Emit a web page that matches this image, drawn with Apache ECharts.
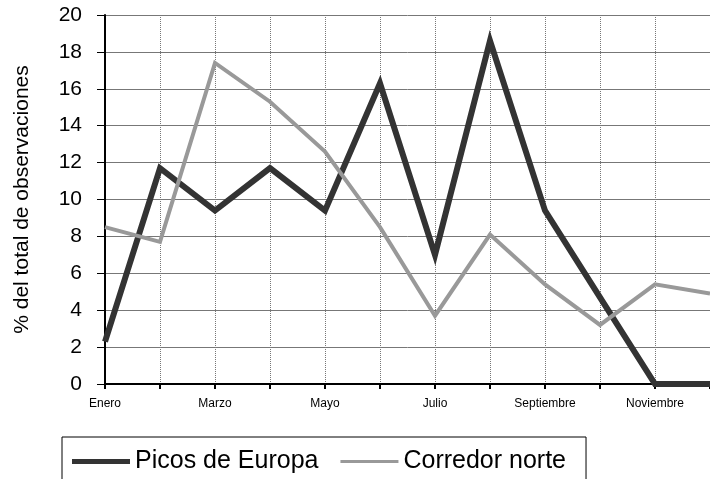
<!DOCTYPE html>
<html>
<head>
<meta charset="utf-8">
<script src="https://cdn.jsdelivr.net/npm/echarts@6/dist/echarts.min.js"></script>
<style>
  html, body { margin: 0; padding: 0; background: #fff; }
  #chart { width: 710px; height: 479px; }
</style>
</head>
<body>
<div id="chart"></div>
<script>
// meses
var months = ['Enero', 'Febrero', 'Marzo', 'Abril', 'Mayo', 'Junio', 'Julio', 'Agosto',
  'Septiembre', 'Octubre', 'Noviembre', 'Diciembre']
// % del total de observaciones
var picos = [2.3, 11.7, 9.4, 11.7, 9.4, 16.3, 7.0, 18.6, 9.4, 4.7, 0, 0]
var corredor = [8.5, 7.7, 17.4, 15.3, 12.6, 8.5, 3.7, 8.1, 5.4, 3.2, 5.4, 4.9]

var myChart = echarts.init(document.getElementById('chart'))

var options = {
  animation: false,
  grid: {
    left: 105,
    top: 15,
    right: -4,
    bottom: 95,
  },
  legend: {
    left: 62,
    top: 437,
    padding: [12, 20, 12, 10],
    itemWidth: 58,
    itemHeight: 14,
    itemGap: 22,
    borderColor: '#000',
    borderWidth: 1,
    textStyle: {
      fontFamily: 'Liberation Sans, Arial',
      fontSize: 25,
      color: '#000',
    },
    data: [
      { name: 'Picos de Europa', icon: 'path://M0,0H58V5H0Z' },
      { name: 'Corredor norte', icon: 'path://M0,0H58V3H0Z' },
    ],
  },
  xAxis: {
    type: 'category',
    boundaryGap: false,
    data: months,
    axisLine: {
      lineStyle: { color: '#000', width: 2 },
    },
    axisTick: {
      interval: 0,
      length: 5,
      lineStyle: { color: '#000', width: 2 },
    },
    axisLabel: {
      interval: 1,
      margin: 14,
      fontFamily: 'Liberation Sans, Arial',
      fontSize: 12,
      color: '#000',
    },
    splitLine: {
      show: true,
      interval: 0,
      lineStyle: { color: '#777', width: 1, type: 'dotted' },
    },
  },
  yAxis: {
    type: 'value',
    min: 0,
    max: 20,
    interval: 2,
    name: '% del total de observaciones',
    nameLocation: 'middle',
    nameRotate: 90,
    nameGap: 72,
    nameTextStyle: {
      fontFamily: 'Liberation Sans, Arial',
      fontSize: 21,
      color: '#000',
    },
    axisLine: {
      show: true,
      lineStyle: { color: '#000', width: 2 },
    },
    axisTick: {
      show: true,
      length: 8,
      lineStyle: { color: '#000', width: 1 },
    },
    axisLabel: {
      margin: 23,
      fontFamily: 'Liberation Sans, Arial',
      fontSize: 21,
      color: '#000',
    },
    splitLine: {
      lineStyle: { color: '#777', width: 1 },
    },
  },
  series: [
    {
      name: 'Picos de Europa',
      type: 'line',
      data: picos,
      symbol: 'none',
      color: '#333',
      lineStyle: { color: '#333', width: 6, join: 'miter' },
    },
    {
      name: 'Corredor norte',
      type: 'line',
      data: corredor,
      symbol: 'none',
      color: '#999',
      lineStyle: { color: '#999', width: 4, join: 'miter' },
    },
  ],
}

myChart.setOption(options)
</script>
</body>
</html>
